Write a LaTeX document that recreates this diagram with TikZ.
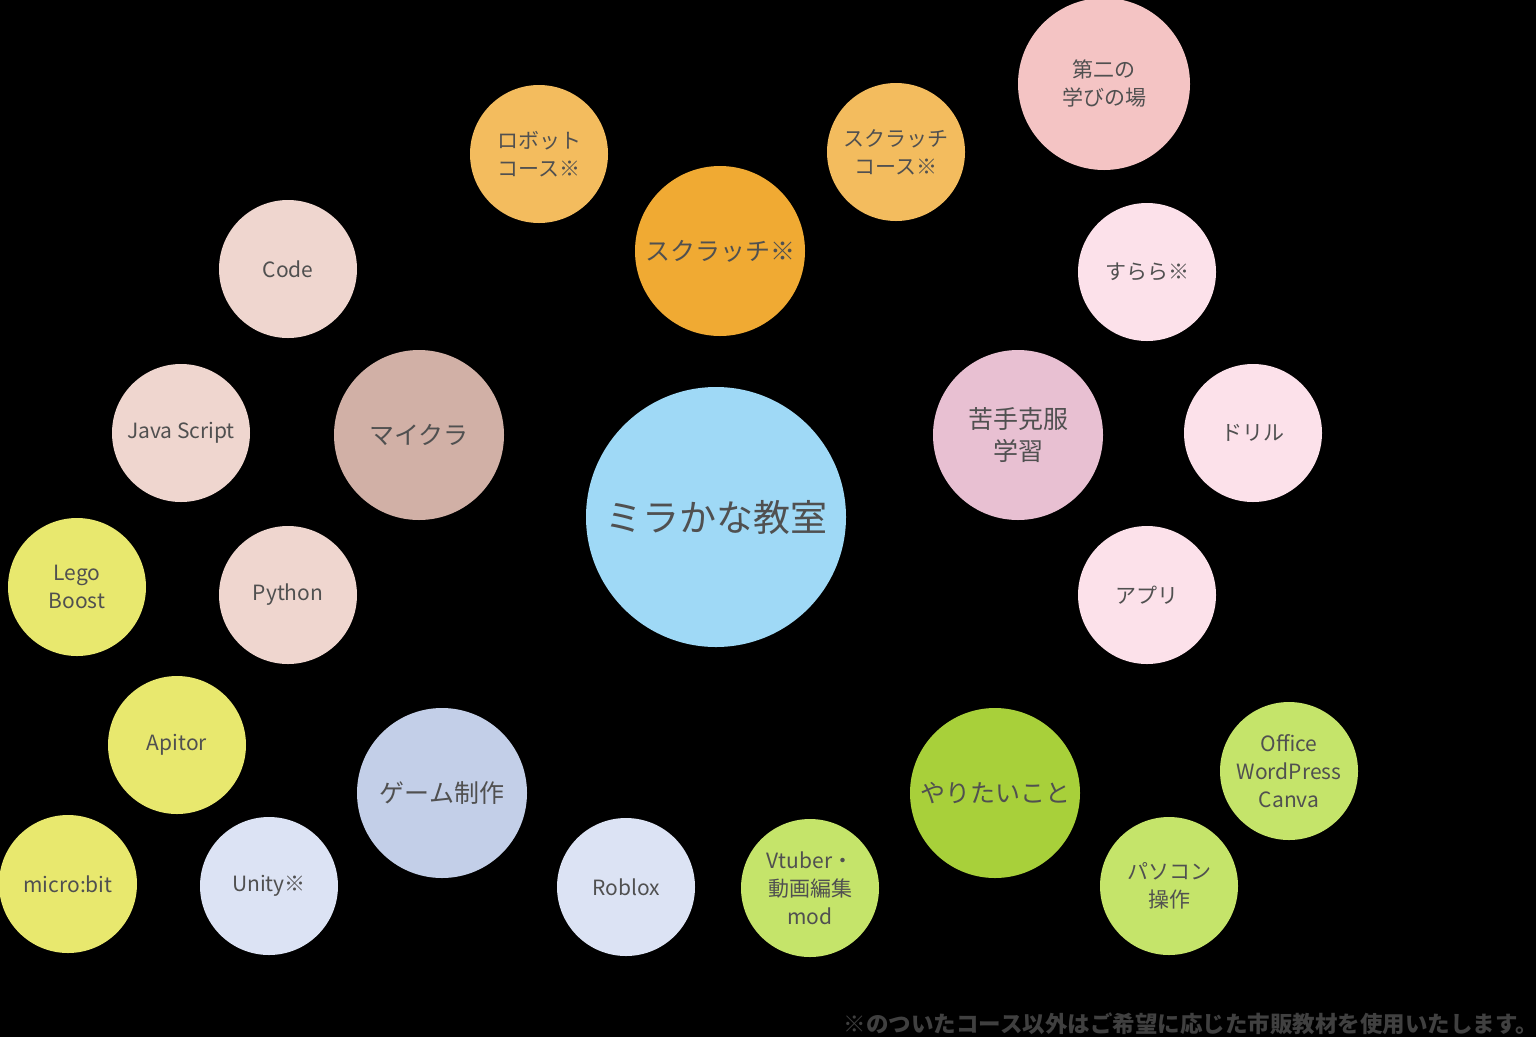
\documentclass[tikz,border=0pt]{standalone}
\usepackage{fontspec}
\setmainfont{Noto Sans CJK JP}

\definecolor{txtgray}{HTML}{505050}
\definecolor{notegray}{HTML}{404040}
\definecolor{skyblue}{HTML}{9FD9F6}
\definecolor{orangedeep}{HTML}{F0AA33}
\definecolor{orangelight}{HTML}{F3BC5E}
\definecolor{rosepink}{HTML}{F4C4C4}
\definecolor{palepink}{HTML}{FCE1EA}
\definecolor{mauvepink}{HTML}{E8C0D2}
\definecolor{beige}{HTML}{EFD6CF}
\definecolor{cocoa}{HTML}{D1B0A6}
\definecolor{lemon}{HTML}{E8E86E}
\definecolor{slateblue}{HTML}{C3CFE8}
\definecolor{paleblue}{HTML}{DCE3F4}
\definecolor{leafgreen}{HTML}{A8D03A}
\definecolor{limegreen}{HTML}{C5E46A}

\begin{document}
\begin{tikzpicture}[x=1pt, y=-1pt, align=center,
  bubble/.style={circle, inner sep=0pt, text=txtgray},
  smallbub/.style={bubble, minimum size=138pt, font=\fontsize{21}{28}\selectfont},
  midbub/.style={bubble, minimum size=170pt, font=\fontsize{25}{32}\selectfont},
  bigbub/.style={bubble, minimum size=260pt, font=\fontsize{37}{44}\selectfont}]

\fill[black] (0,0) rectangle (1536,1037);
\useasboundingbox (0,0) rectangle (1536,1037);

% center
\node (mirakana) [bigbub, fill=skyblue] at (716,517) {ミラかな教室};

% scratch
\node (scratch) [midbub, fill=orangedeep] at (720,251) {スクラッチ※};
\node (robot) [smallbub, fill=orangelight] at (539,154) {ロボット\\コース※};
\node (scratchcourse) [smallbub, fill=orangelight] at (896,152) {スクラッチ\\コース※};

% study
\node (nigate) [midbub, fill=mauvepink] at (1018,435) {苦手克服\\学習};
\node (daini) [bubble, minimum size=172pt, font=\fontsize{21}{28}\selectfont, fill=rosepink] at (1104,84) {第二の\\学びの場};
\node (surara) [smallbub, fill=palepink] at (1147,272) {すらら※};
\node (drill) [smallbub, fill=palepink] at (1253,433) {ドリル};
\node (app) [smallbub, fill=palepink] at (1147,595) {アプリ};

% maikura
\node (maikura) [midbub, fill=cocoa] at (419,435) {マイクラ};
\node (code) [smallbub, fill=beige] at (288,269) {Code};
\node (js) [smallbub, fill=beige] at (181,433) {Java Script};
\node (python) [smallbub, fill=beige] at (288,595) {Python};

% robots
\node (lego) [smallbub, fill=lemon] at (77,587) {Lego\\Boost};
\node (apitor) [smallbub, fill=lemon] at (177,745) {Apitor};
\node (microbit) [smallbub, fill=lemon] at (68,884) {micro:bit};

% games
\node (game) [midbub, fill=slateblue] at (442,793) {ゲーム制作};
\node (unity) [smallbub, fill=paleblue] at (269,886) {Unity※};
\node (roblox) [smallbub, fill=paleblue] at (626,887) {Roblox};

% yaritai
\node (yaritai) [midbub, fill=leafgreen] at (995,793) {やりたいこと};
\node (vtuber) [smallbub, fill=limegreen] at (810,888) {Vtuber・\\動画編集\\mod};
\node (office) [smallbub, fill=limegreen] at (1289,771) {Office\\WordPress\\Canva};
\node (pasokon) [smallbub, fill=limegreen] at (1169,886) {パソコン\\操作};

% note
\node (note) [anchor=base east, inner sep=0pt, text=notegray, font=\bfseries\fontsize{22.5}{25}\selectfont] at (1538,1032) {※のついたコース以外はご希望に応じた市販教材を使用いたします。};
\end{tikzpicture}
\end{document}
